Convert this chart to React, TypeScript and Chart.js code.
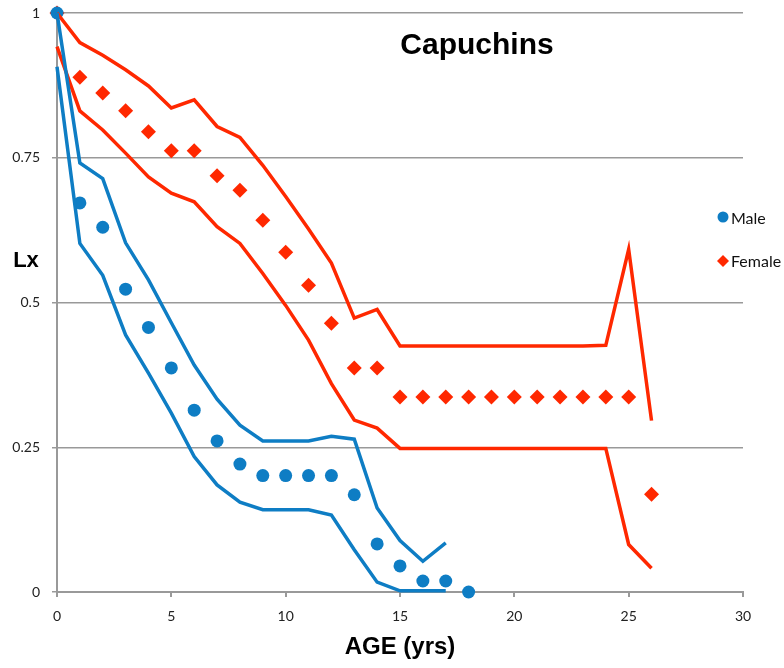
import React, { useEffect, useRef } from "react";
import { Chart, registerables } from "chart.js";

Chart.register(...registerables);

// Ages (years)
const maleAges = [0, 1, 2, 3, 4, 5, 6, 7, 8, 9, 10, 11, 12, 13, 14, 15, 16, 17, 18];
const maleLx = [1, 0.672, 0.63, 0.523, 0.457, 0.387, 0.314, 0.261, 0.221, 0.201, 0.201, 0.201, 0.201, 0.168, 0.083, 0.045, 0.019, 0.019, 0];

const maleCIAges = [0, 1, 2, 3, 4, 5, 6, 7, 8, 9, 10, 11, 12, 13, 14, 15, 16, 17];
const maleUpper = [1, 0.741, 0.714, 0.603, 0.539, 0.465, 0.392, 0.333, 0.288, 0.261, 0.261, 0.261, 0.269, 0.264, 0.145, 0.089, 0.053, 0.085];
const maleLower = [0.907, 0.602, 0.547, 0.444, 0.378, 0.309, 0.234, 0.185, 0.155, 0.142, 0.142, 0.142, 0.133, 0.073, 0.017, 0.002, 0.002, 0.002];

const femaleAges = [0, 1, 2, 3, 4, 5, 6, 7, 8, 9, 10, 11, 12, 13, 14, 15, 16, 17, 18, 19, 20, 21, 22, 23, 24, 25, 26];
const femaleLx = [1, 0.889, 0.862, 0.831, 0.795, 0.762, 0.762, 0.719, 0.694, 0.642, 0.587, 0.53, 0.464, 0.387, 0.387, 0.337, 0.337, 0.337, 0.337, 0.337, 0.337, 0.337, 0.337, 0.337, 0.337, 0.337, 0.169];
const femaleUpper = [1, 0.949, 0.927, 0.902, 0.874, 0.836, 0.85, 0.804, 0.785, 0.737, 0.683, 0.627, 0.568, 0.473, 0.488, 0.425, 0.425, 0.425, 0.425, 0.425, 0.425, 0.425, 0.425, 0.425, 0.426, 0.592, 0.296];
const femaleLower = [0.942, 0.831, 0.798, 0.758, 0.717, 0.689, 0.674, 0.631, 0.602, 0.55, 0.495, 0.435, 0.36, 0.297, 0.283, 0.248, 0.248, 0.248, 0.248, 0.248, 0.248, 0.248, 0.248, 0.248, 0.248, 0.082, 0.041];

const yTickLabels: Record<string, string> = { "0": "0", "0.25": "0.25", "0.5": "0.5", "0.75": "0.75", "1": "1" };

const BLUE = "#0E7DC4";
const RED = "#FF2800";
const GRID = "#999999";

const pts = (xs: number[], ys: number[]) => xs.map((x, i) => ({ x, y: ys[i] }));

const overlayPlugin = {
  id: "overlay",
  afterDraw(chart: any) {
    const { ctx, chartArea } = chart;
    ctx.save();
    // Title inside plot
    ctx.fillStyle = "#000";
    ctx.font = "bold 30px 'Liberation Sans', Arial, sans-serif";
    ctx.textAlign = "center";
    ctx.textBaseline = "middle";
    ctx.fillText("Capuchins", (chartArea.left + chartArea.right) / 2 + 77, chartArea.top + 33);
    // Y title
    ctx.font = "bold 22px 'Liberation Sans', Arial, sans-serif";
    ctx.fillText("Lx", 26, 261);
    // Legend
    ctx.font = "16px Lato, 'Open Sans', sans-serif";
    ctx.textAlign = "left";
    ctx.fillStyle = "#111";
    ctx.fillText("Male", 731, 219);
    ctx.fillText("Female", 731, 262);
    ctx.fillStyle = BLUE;
    ctx.beginPath();
    ctx.arc(723, 217, 5.5, 0, Math.PI * 2);
    ctx.fill();
    ctx.fillStyle = RED;
    ctx.beginPath();
    ctx.moveTo(723, 255);
    ctx.lineTo(729, 261);
    ctx.lineTo(723, 267);
    ctx.lineTo(717, 261);
    ctx.closePath();
    ctx.fill();
    ctx.restore();
  },
};

export default function App() {
  const ref = useRef<HTMLCanvasElement | null>(null);
  useEffect(() => {
    if (!ref.current) return;
    const lineDs = (label: string, data: any, color: string) => ({
      label,
      data,
      borderColor: color,
      backgroundColor: color,
      borderWidth: 3.5,
      pointRadius: 0,
      showLine: true,
      tension: 0,
      clip: false as any,
    });
    const chart = new Chart(ref.current, {
      type: "line",
      data: {
        datasets: [
          lineDs("Male upper", pts(maleCIAges, maleUpper), BLUE),
          lineDs("Male lower", pts(maleCIAges, maleLower), BLUE),
          lineDs("Female upper", pts(femaleAges, femaleUpper), RED),
          lineDs("Female lower", pts(femaleAges, femaleLower), RED),
          {
            label: "Male",
            data: pts(maleAges, maleLx),
            showLine: false,
            pointStyle: "circle",
            pointRadius: 6.5,
            borderWidth: 0,
            backgroundColor: BLUE,
            borderColor: BLUE,
            clip: false as any,
          },
          {
            label: "Female",
            data: pts(femaleAges, femaleLx),
            showLine: false,
            pointStyle: "rectRot",
            pointRadius: 7.5,
            borderWidth: 0,
            backgroundColor: RED,
            borderColor: RED,
            clip: false as any,
          },
        ],
      },
      options: {
        animation: false,
        responsive: false,
        maintainAspectRatio: false,
        layout: { padding: { top: 13, right: 41, left: 0, bottom: 0 } },
        plugins: { legend: { display: false }, title: { display: false }, tooltip: { enabled: false } },
        scales: {
          x: {
            type: "linear",
            min: 0,
            max: 30,
            afterFit: (s: any) => {
              s.height = 76;
            },
            ticks: { stepSize: 5, padding: 11, color: "#222", font: { family: "Lato, 'Open Sans', sans-serif", size: 14 } },
            grid: { drawOnChartArea: false, drawTicks: true, tickLength: 5, color: GRID, lineWidth: 2 },
            border: { color: GRID, width: 2 },
            title: {
              display: true,
              text: "AGE (yrs)",
              color: "#000",
              font: { family: "'Liberation Sans', Arial, sans-serif", size: 24, weight: "bold" },
              padding: { top: 0, bottom: 6 },
            },
          },
          y: {
            type: "linear",
            min: 0,
            max: 1,
            afterFit: (s: any) => {
              s.width = 57;
              s.paddingTop = 0;
              s.paddingBottom = 0;
            },
            ticks: {
              stepSize: 0.25,
              padding: 12,
              color: "#222",
              font: { family: "Lato, 'Open Sans', sans-serif", size: 14 },
              callback: (v: any) => yTickLabels[String(v)] ?? String(v),
            },
            grid: { color: GRID, lineWidth: 1.5, tickLength: 5 },
            border: { color: GRID, width: 2 },
          },
        },
      },
      plugins: [overlayPlugin],
    });
    return () => chart.destroy();
  }, []);
  return (
    <div style={{ position: "absolute", left: 0, top: 0, width: 784, height: 668, background: "#fff" }}>
      <canvas ref={ref} width={784} height={668} style={{ display: "block", width: 784, height: 668 }} />
    </div>
  );
}
